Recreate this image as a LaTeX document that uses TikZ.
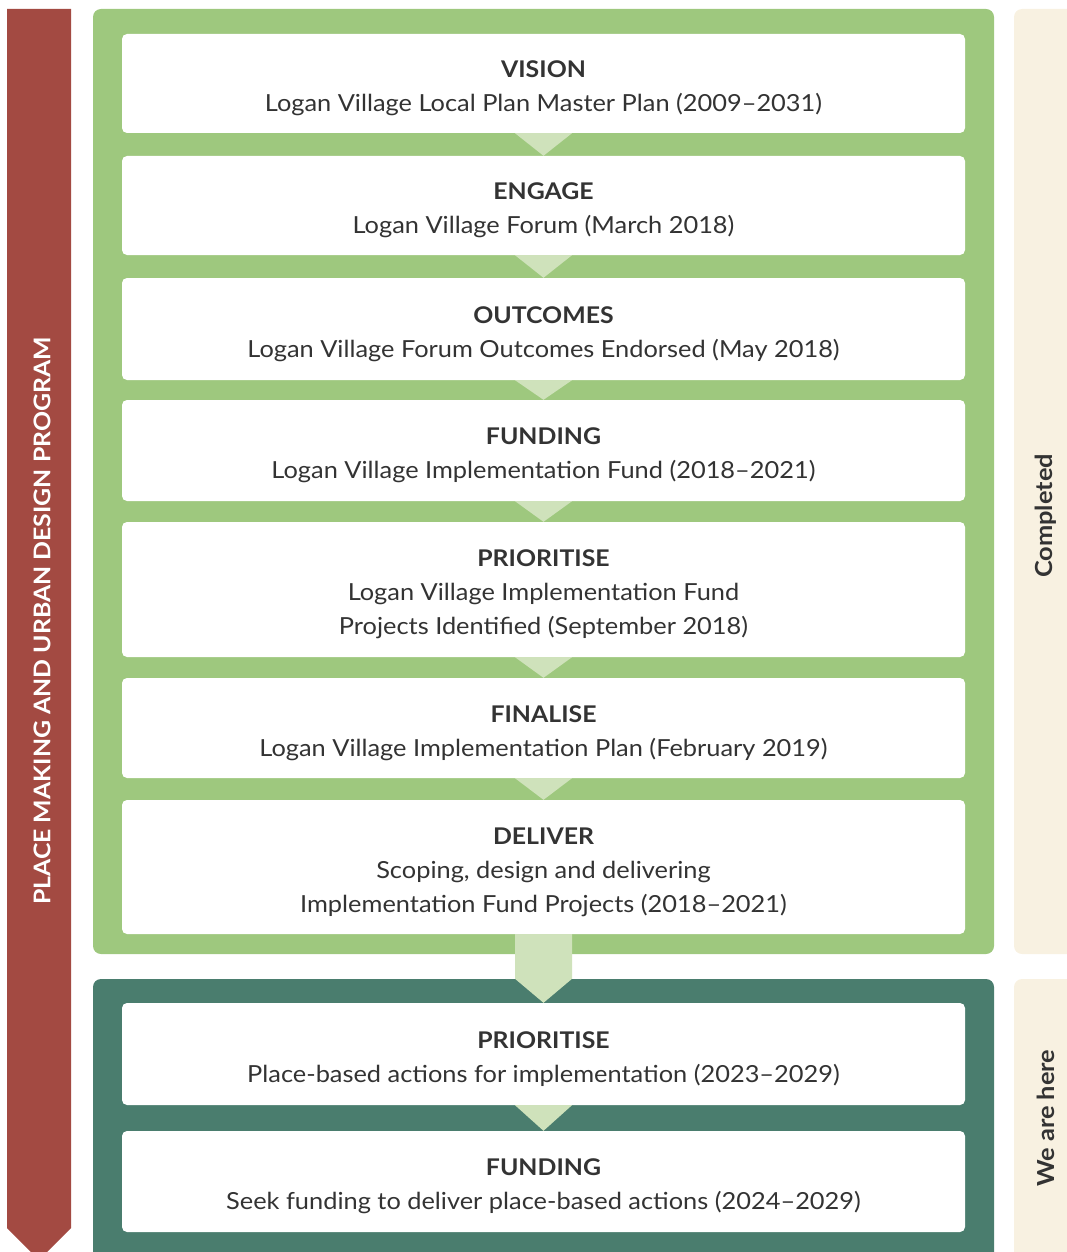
\documentclass[tikz,border=0pt]{standalone}
\usepackage{fontspec}
\setmainfont{Lato}[FakeStretch=1.08]
\usepackage{tikz}
\usetikzlibrary{positioning, calc}
\definecolor{barred}{HTML}{A34A42}
\definecolor{plangreen}{HTML}{9EC87E}
\definecolor{deepgreen}{HTML}{4A7D6E}
\definecolor{palegreen}{HTML}{CFE2BB}
\definecolor{sandband}{HTML}{F8F1E1}
\definecolor{inkgrey}{HTML}{333333}
\newcommand{\stagehead}[1]{{\fontsize{23}{34}\selectfont\bfseries\rule{0pt}{27pt}#1}}

\begin{document}
\begin{tikzpicture}[x=1pt, y=-1pt]
            \tikzset{stage/.style = {fill=white, rounded corners=5pt, minimum width=843pt, inner sep=0pt,
                align=center, text=inkgrey, font=\fontsize{23.5}{34}\selectfont}}
            \tikzset{chev/.style = {fill=palegreen}}
            \tikzset{sidetext/.style = {rotate=90, font=\fontsize{23.5}{26}\selectfont\bfseries}}

            \useasboundingbox (0,0) rectangle (1067,1252);
            \clip (0,0) rectangle (1067,1252);

            % panels
            \fill[barred] (7,9) -- (71,9) -- (71,1228) -- (39,1260) -- (7,1228) -- cycle;
            \fill[plangreen, rounded corners=8pt] (93,9) rectangle (994,954);
            \fill[deepgreen, rounded corners=8pt] (93,979) rectangle (994,1270);
            \fill[sandband, rounded corners=8pt] (1014,9) rectangle (1090,954);
            \fill[sandband, rounded corners=8pt] (1014,979) rectangle (1090,1270);

            \node[sidetext, text=white, font=\fontsize{23}{26}\selectfont\bfseries] (program) at (42,621)
                {PLACE MAKING AND URBAN DESIGN PROGRAM};
            \node[sidetext, text=inkgrey] (done) at (1046,516) {Completed};
            \node[sidetext, text=inkgrey] (here) at (1046,1118) {We are here};

            % stages
            \node[stage, minimum height=99pt] (vision) at (543.5,83.5)
                {\stagehead{VISION}\\Logan Village Local Plan Master Plan (2009--2031)};
            \node[stage, minimum height=99pt] (engage) at (543.5,205.5)
                {\stagehead{ENGAGE}\\Logan Village Forum (March 2018)};
            \node[stage, minimum height=102pt] (outcomes) at (543.5,329)
                {\stagehead{OUTCOMES}\\Logan Village Forum Outcomes Endorsed (May 2018)};
            \node[stage, minimum height=101pt] (funding) at (543.5,450.5)
                {\stagehead{FUNDING}\\Logan Village Implementation Fund (2018--2021)};
            \node[stage, minimum height=135pt] (prioritise) at (543.5,589.5)
                {\stagehead{PRIORITISE}\\Logan Village Implementation Fund\\Projects Identified (September 2018)};
            \node[stage, minimum height=100pt] (finalise) at (543.5,728)
                {\stagehead{FINALISE}\\Logan Village Implementation Plan (February 2019)};
            \node[stage, minimum height=134pt] (deliver) at (543.5,867)
                {\stagehead{DELIVER}\\Scoping, design and delivering\\Implementation Fund Projects (2018--2021)};
            \node[stage, minimum height=102pt] (nextprio) at (543.5,1054)
                {\stagehead{PRIORITISE}\\Place-based actions for implementation (2023--2029)};
            \node[stage, minimum height=101pt] (nextfund) at (543.5,1181.5)
                {\stagehead{FUNDING}\\Seek funding to deliver place-based actions (2024--2029)};

            % arrows
            \fill[chev] ($(vision.south)+(-28.5,0)$) -- ($(vision.south)+(28.5,0)$) -- (engage.north) -- cycle;
            \fill[chev] ($(engage.south)+(-28.5,0)$) -- ($(engage.south)+(28.5,0)$) -- (outcomes.north) -- cycle;
            \fill[chev] ($(outcomes.south)+(-28.5,0)$) -- ($(outcomes.south)+(28.5,0)$) -- (funding.north) -- cycle;
            \fill[chev] ($(funding.south)+(-28.5,0)$) -- ($(funding.south)+(28.5,0)$) -- (prioritise.north) -- cycle;
            \fill[chev] ($(prioritise.south)+(-28.5,0)$) -- ($(prioritise.south)+(28.5,0)$) -- (finalise.north) -- cycle;
            \fill[chev] ($(finalise.south)+(-28.5,0)$) -- ($(finalise.south)+(28.5,0)$) -- (deliver.north) -- cycle;
            \fill[chev] ($(deliver.south)+(-28.5,0)$) -- ($(deliver.south)+(28.5,0)$) -- ($(nextprio.north)+(28.5,-24)$)
                -- (nextprio.north) -- ($(nextprio.north)+(-28.5,-24)$) -- cycle;
            \fill[chev] ($(nextprio.south)+(-28.5,0)$) -- ($(nextprio.south)+(28.5,0)$) -- (nextfund.north) -- cycle;

        \end{tikzpicture}
\end{document}
